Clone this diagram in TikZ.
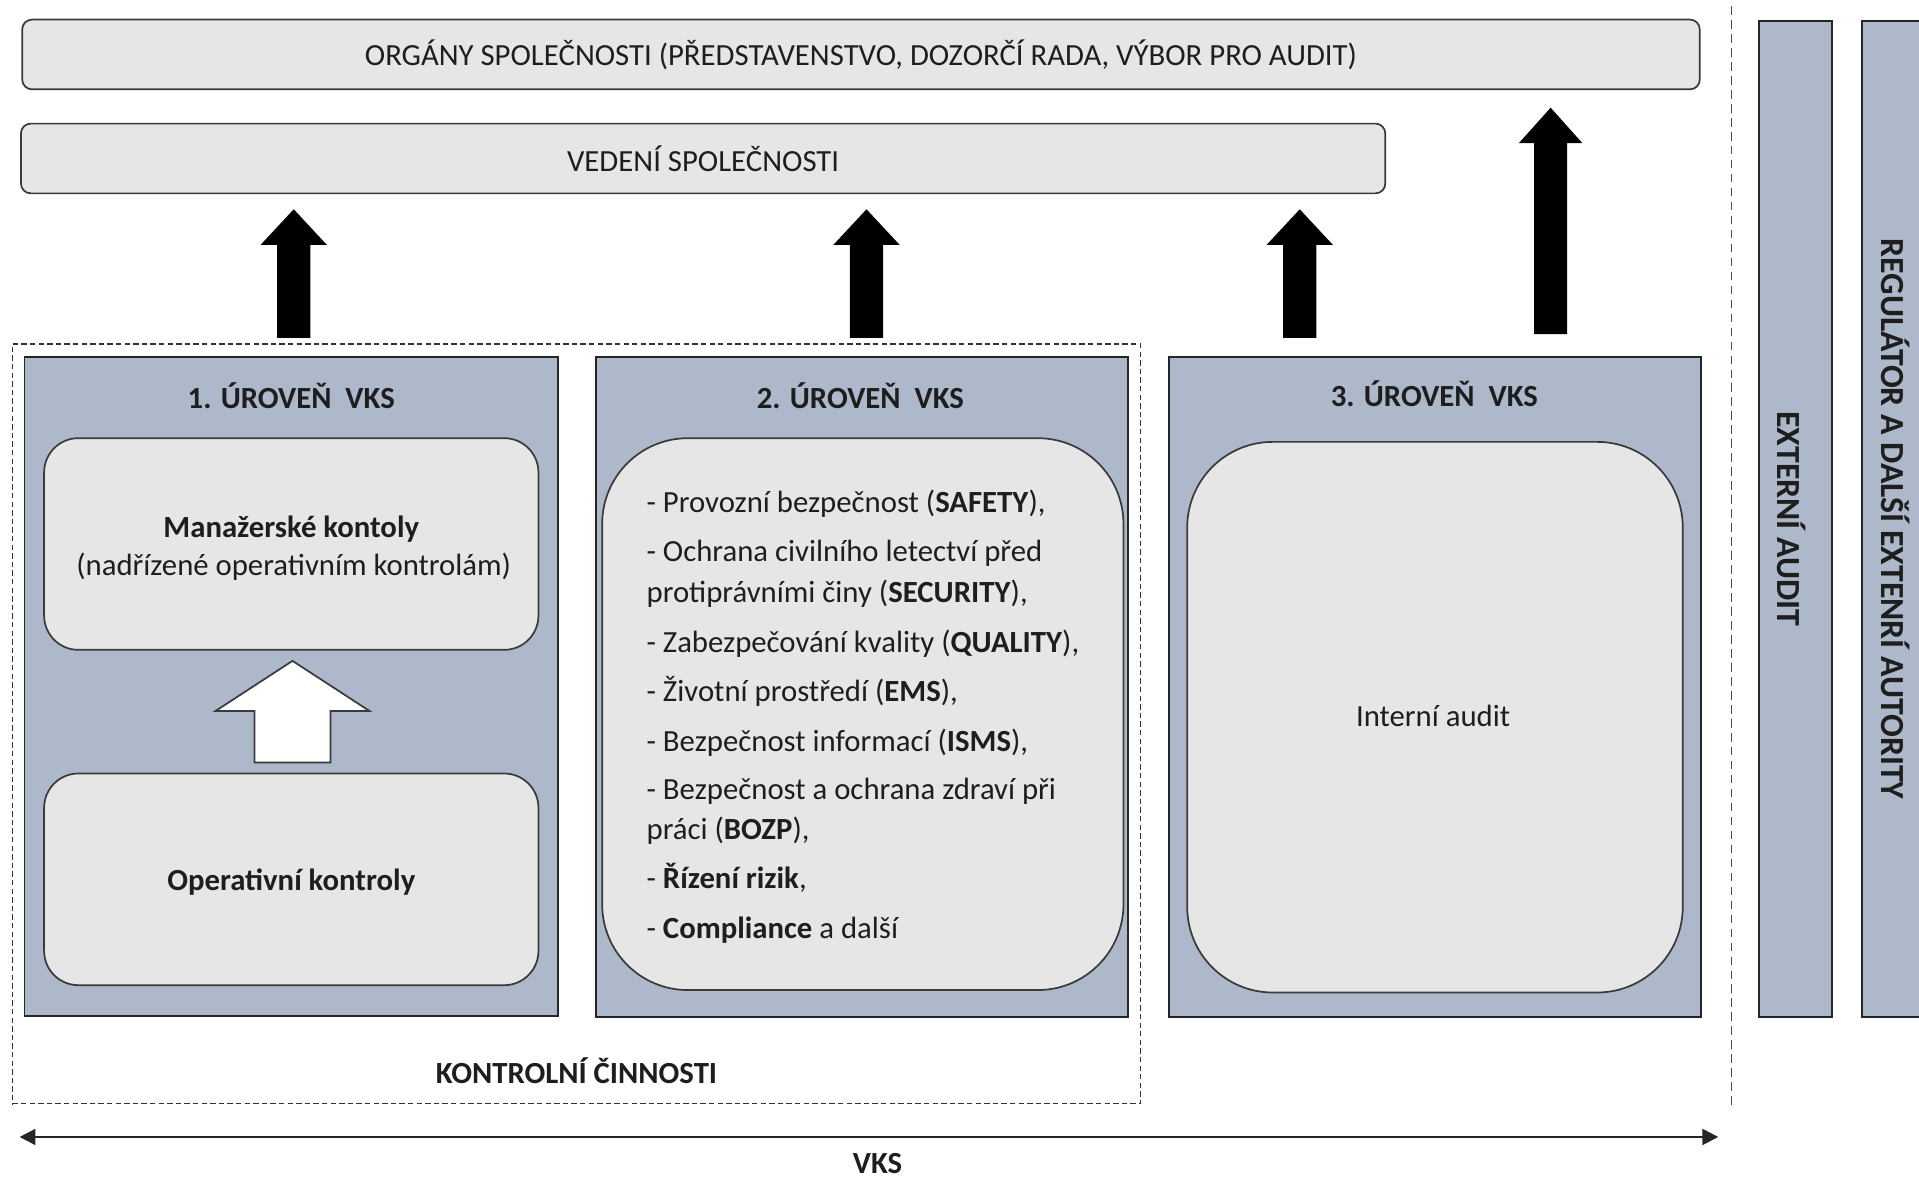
\documentclass[tikz,border=0pt]{standalone}
\usepackage{fontspec}
\setmainfont{Carlito}
\usetikzlibrary{arrows.meta}
\definecolor{bluegray}{HTML}{ADB9CA}
\definecolor{lgray}{HTML}{E6E6E6}
\definecolor{edgecol}{HTML}{3A3A3A}
\definecolor{txt}{HTML}{1E1E1E}
\newcommand\blkarrow[7]{%
  \path[#1] ({#2-#5},#3) -- ({#2-#5},{#4+#7}) -- ({#2-#6},{#4+#7}) -- (#2,#4)
     -- ({#2+#6},{#4+#7}) -- ({#2+#5},{#4+#7}) -- ({#2+#5},#3) -- cycle;}
\begin{document}
\begin{tikzpicture}[x=0.02cm,y=-0.02cm,
  every node/.style={text=txt, font=\fontsize{14.3}{17}\selectfont},
  topbar/.style={draw=edgecol, line width=0.8pt, fill=lgray, rounded corners=0.16cm, inner sep=0pt},
  levelbox/.style={draw=black!85, line width=0.9pt, fill=bluegray, inner sep=0pt},
  innerbox/.style={draw=edgecol, line width=0.8pt, fill=lgray, inner sep=0pt},
  colbox/.style={draw=black!85, line width=0.9pt, fill=bluegray, inner sep=0pt},
  bold/.style={font=\fontsize{14.3}{17}\selectfont\bfseries},
  coltext/.style={font=\fontsize{15.7}{18}\selectfont\bfseries, rotate=-90},
  blackarrow/.style={fill=black},
  whitearrow/.style={fill=white, draw=edgecol, line width=0.8pt},
  listline/.style={anchor=base west, inner sep=0pt}
]
\useasboundingbox (0,0) rectangle (1568,963);

% top bars
\node[topbar, minimum width=27.42cm, minimum height=1.14cm] (org) at (703.5,44.5)
  {ORGÁNY SPOLEČNOSTI (PŘEDSTAVENSTVO, DOZORČÍ RADA, VÝBOR PRO AUDIT)};
\node[topbar, minimum width=22.30cm, minimum height=1.14cm] (ved) at (574.5,129.5)
  {VEDENÍ SPOLEČNOSTI};

% control activities dashed frame
\node[draw=black!80, dash pattern=on 2.5pt off 1.5pt, line width=0.6pt,
      minimum width=18.44cm, minimum height=12.42cm, inner sep=0pt] (kc) at (471,591.5) {};
\node[bold, anchor=base, inner sep=0pt] (kct) at (471,885) {KONTROLNÍ ČINNOSTI};

% vertical dashed separator
\coordinate (sept) at (1415,5);
\coordinate (sepb) at (1415,905);
\draw[black!70, dash pattern=on 4pt off 2.5pt, line width=0.6pt] (sept) -- (sepb);

% level boxes
\node[levelbox, minimum width=8.72cm, minimum height=10.76cm] (l1) at (238,561) {};
\node[levelbox, minimum width=8.70cm, minimum height=10.78cm] (l2) at (704.5,561.5) {};
\node[levelbox, minimum width=8.70cm, minimum height=10.78cm] (l3) at (1172.5,561.5) {};

\node[bold, anchor=base, inner sep=0pt] (l1t) at (238,334) {1. ÚROVEŇ\ \ VKS};
\node[bold, anchor=base, inner sep=0pt] (l2t) at (703,334) {2. ÚROVEŇ\ \ VKS};
\node[bold, anchor=base, inner sep=0pt] (l3t) at (1172,332) {3. ÚROVEŇ\ \ VKS};

% level 1 content
\node[innerbox, rounded corners=0.56cm, minimum width=8.08cm, minimum height=3.46cm] (man) at (238,444.5) {};
\node[bold, anchor=base, inner sep=0pt] (mant) at (238,439) {Manažerské kontoly};
\node[anchor=base, inner sep=0pt] (mans) at (240,470) {(nadřízené operativním kontrolám)};
\node[innerbox, rounded corners=0.56cm, minimum width=8.08cm, minimum height=3.46cm] (op) at (238,718.5) {};
\node[bold, anchor=base, inner sep=0pt] (opt) at (238,728) {Operativní kontroly};
\blkarrow{whitearrow}{239}{623}{540}{31}{63}{41}

% level 2 content
\node[innerbox, rounded corners=1.4cm, minimum width=8.52cm, minimum height=9.02cm] (l2in) at (705,583.5) {};
\node[listline] (a1) at (528,419) {- Provozní bezpečnost (\textbf{SAFETY}),};
\node[listline] (a2) at (528,459) {- Ochrana civilního letectví před};
\node[listline] (a3) at (528,492) {protiprávními činy (\textbf{SECURITY}),};
\node[listline] (a4) at (528,533) {- Zabezpečování kvality (\textbf{QUALITY}),};
\node[listline] (a5) at (528,573) {- Životní prostředí (\textbf{EMS}),};
\node[listline] (a6) at (528,614) {- Bezpečnost informací (\textbf{ISMS}),};
\node[listline] (a7) at (528,653) {- Bezpečnost a ochrana zdraví při};
\node[listline] (a8) at (528,686) {práci (\textbf{BOZP}),};
\node[listline] (a9) at (528,726) {- \textbf{Řízení rizik},};
\node[listline] (a10) at (528,767) {- \textbf{Compliance} a další};

% level 3 content
\node[innerbox, rounded corners=1.4cm, minimum width=8.10cm, minimum height=9.00cm] (l3in) at (1172.5,586) {};
\node[anchor=base, inner sep=0pt] (ia) at (1171,594) {Interní audit};

% black arrows
\blkarrow{blackarrow}{240}{276}{171}{13.5}{27}{29}
\blkarrow{blackarrow}{708}{276}{171}{13.5}{27}{29}
\blkarrow{blackarrow}{1062}{276}{171}{13.5}{27}{29}
\blkarrow{blackarrow}{1267}{273}{88}{13.5}{26}{29}

% right columns
\node[colbox, minimum width=1.2cm, minimum height=16.28cm] (ext) at (1467,424) {};
\node[coltext] (extt) at (1464,424) {EXTERNÍ AUDIT};
\node[colbox, minimum width=1.5cm, minimum height=16.28cm] (reg) at (1559,424) {};
\node[coltext] (regt) at (1549,424) {REGULÁTOR A DALŠÍ EXTENRÍ AUTORITY};

% VKS span arrow
\coordinate (vl) at (16,929);
\coordinate (vr) at (1404,929);
\draw[line width=1pt, black!85, {Triangle[length=0.26cm,width=0.26cm]}-{Triangle[length=0.26cm,width=0.26cm]}] (vl) -- (vr);
\node[bold, anchor=base, inner sep=0pt] (vks) at (717,959) {VKS};
\end{tikzpicture}
\end{document}
